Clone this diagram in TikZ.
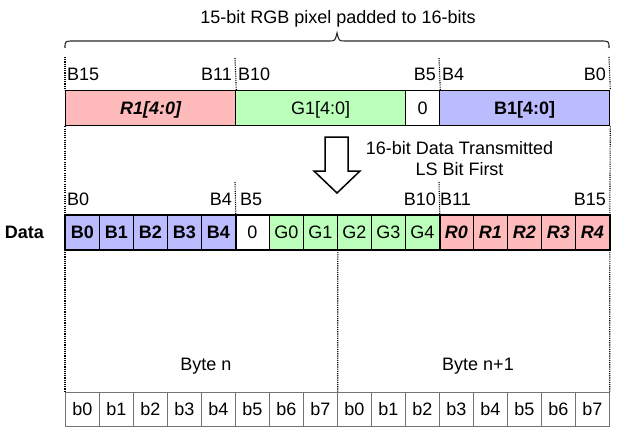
\documentclass[tikz,border=0pt]{standalone}
\usepackage{fontspec}
\setmainfont{Liberation Sans}
\definecolor{rfill}{HTML}{FFBBBB}
\definecolor{gfill}{HTML}{BBFFBB}
\definecolor{bfill}{HTML}{BBBBFF}
\newcommand\fsz{\fontsize{18}{21}\selectfont}
\begin{document}
\begin{tikzpicture}[x=1pt,y=-1pt,
  lbl/.style={font=\fsz, inner sep=0pt},
  cell/.style={draw=black, line width=0.8pt, minimum width=34pt, minimum height=34pt,
    inner sep=0pt, anchor=north west, text height=12.9pt, text depth=0pt, font=\fsz},
  bc/.style={cell, fill=bfill, font=\fsz\bfseries},
  zc/.style={cell, fill=white},
  gc/.style={cell, fill=gfill},
  rc/.style={cell, fill=rfill, font=\fsz\bfseries\itshape},
  yc/.style={cell, draw=black!55, line width=0.7pt, fill=white},
  seg/.style={draw=black, line width=1.3pt, minimum height=35pt, inner sep=0pt,
    anchor=north west, text height=12.9pt, text depth=0pt, font=\fsz},
  dotline/.style={line width=1.1pt, dash pattern=on 1.1pt off 1.1pt},
  brace/.style={draw=black!85, line width=1.1pt},
  bigarrow/.style={draw=black, line width=1.5pt, fill=white}]
\useasboundingbox (0,0) rectangle (628,436);

% title and brace
\node[lbl, anchor=base] (title) at (338,24) {15-bit RGB pixel padded to 16-bits};
\draw[brace] (65,48) .. controls (65,41) .. (74,41) -- (329,41)
  .. controls (335,41) .. (337,33) .. controls (339,41) .. (345,41)
  -- (600,41) .. controls (609,41) .. (609,48);

% top pixel bar
\node[seg, fill=rfill, minimum width=170pt, font=\fsz\bfseries\itshape] (r1) at (65,90) {R1[4:0]};
\node[seg, fill=gfill, minimum width=170pt] (g1) at (235,90) {G1[4:0]};
\node[seg, fill=white, minimum width=34pt] (z1) at (405,90) {0};
\node[seg, fill=bfill, minimum width=170pt, font=\fsz\bfseries] (b1) at (439,90) {B1[4:0]};

% top bit labels
\node[lbl, anchor=base west] (tB15) at (67,80) {B15};
\node[lbl, anchor=base east] (tB11) at (232,80) {B11};
\node[lbl, anchor=base west] (tB10) at (238,80) {B10};
\node[lbl, anchor=base east] (tB5) at (436,80) {B5};
\node[lbl, anchor=base west] (tB4) at (442,80) {B4};
\node[lbl, anchor=base east] (tB0) at (606,80) {B0};

% arrow and its text
\draw[bigarrow] (325,137) -- (348,137) -- (348,171) -- (360,171) -- (337,193)
  -- (314,171) -- (325,171) -- cycle;
\node[lbl, anchor=base] (tx1) at (459.5,154) {16-bit Data Transmitted};
\node[lbl, anchor=base] (tx2) at (459.5,175) {LS Bit First};

% data row
\node[lbl, anchor=base east, font=\fsz\bfseries] (datalbl) at (44,238) {Data};
\foreach \t/\s [count=\i from 0] in {B0/bc,B1/bc,B2/bc,B3/bc,B4/bc,0/zc,G0/gc,G1/gc,G2/gc,G3/gc,G4/gc,R0/rc,R1/rc,R2/rc,R3/rc,R4/rc}
  \node[\s] (d\i) at ({65+34*\i},215) {\t};
\draw[line width=1.6pt] (d0.north west) rectangle (d15.south east);
\draw[line width=1.6pt] (d4.north east) -- (d4.south east);
\draw[line width=1.6pt] (d10.north east) -- (d10.south east);

% data bit labels
\node[lbl, anchor=base west] (dB0) at (67,205) {B0};
\node[lbl, anchor=base east] (dB4) at (232,205) {B4};
\node[lbl, anchor=base west] (dB5) at (240,205) {B5};
\node[lbl, anchor=base east] (dB10) at (436,205) {B10};
\node[lbl, anchor=base west] (dB11) at (440,205) {B11};
\node[lbl, anchor=base east] (dB15) at (606,205) {B15};

% byte row
\foreach \t [count=\i from 0] in {b0,b1,b2,b3,b4,b5,b6,b7,b0,b1,b2,b3,b4,b5,b6,b7}
  \node[yc] (y\i) at ({65+34*\i},392) {\t};
\node[lbl, anchor=base] (byten) at (206,370) {Byte n};
\node[lbl, anchor=base] (byten1) at (478,370) {Byte n+1};

% dotted guide lines
\coordinate (gl) at (65,57);
\coordinate (gr) at (609,57);
\coordinate (g11) at (235,58);
\coordinate (g4) at (439,58);
\coordinate (h5) at (235,182);
\coordinate (h11) at (439,182);
\draw[dotline] (gl) -- (r1.north west);
\draw[dotline] (r1.south west) -- (d0.north west);
\draw[dotline] (d0.south west) -- (y0.north west);
\draw[dotline] (gr) -- (b1.north east);
\draw[dotline] (b1.south east) -- (d15.north east);
\draw[dotline] (d15.south east) -- (y15.north east);
\draw[dotline] (g11) -- (r1.north east);
\draw[dotline] (g4) -- (z1.north east);
\draw[dotline] (h5) -- (d4.north east);
\draw[dotline] (h11) -- (d10.north east);
\draw[dotline] (d7.south east) -- (y7.north east);
\end{tikzpicture}
\end{document}
